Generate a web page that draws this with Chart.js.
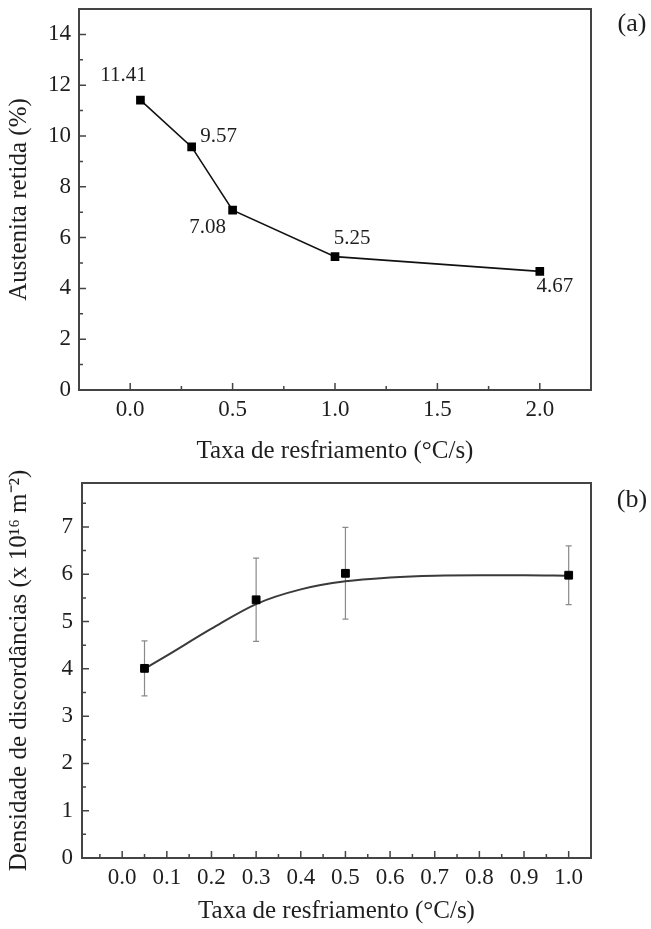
<!DOCTYPE html>
<html>
<head>
<meta charset="utf-8">
<script src="https://cdn.jsdelivr.net/npm/chart.js@4.4.0/dist/chart.umd.min.js"></script>
<style>
  html, body { margin: 0; padding: 0; background: #fff; }
  #wrap { position: relative; width: 651px; height: 929px; }
  .panel { position: absolute; left: 0; width: 651px; }
  #panelA { top: 0; height: 470px; }
  #panelB { top: 470px; height: 459px; }
</style>
</head>
<body>
<div id="wrap">
  <div class="panel" id="panelA"><canvas id="austeniteChart"></canvas></div>
  <div class="panel" id="panelB"><canvas id="densityChart"></canvas></div>
</div>
<script>
// (a) retained austenite vs cooling rate
const rateA = [0.05, 0.3, 0.5, 1.0, 2.0];
const austenite = [11.41, 9.57, 7.08, 5.25, 4.67];
const xTicksA = [0, 0.25, 0.5, 0.75, 1.0, 1.25, 1.5, 1.75, 2.0];
const xLabelsA = [0, 0.5, 1.0, 1.5, 2.0];
const yTicksA = [0, 1, 2, 3, 4, 5, 6, 7, 8, 9, 10, 11, 12, 13, 14];
const yLabelsA = [0, 2, 4, 6, 8, 10, 12, 14];

// (b) dislocation density vs cooling rate, with fitted curve
const rateB = [0.05, 0.3, 0.5, 1.0];
const density = [4.01, 5.46, 6.02, 5.98];
const densityErr = [0.58, 0.88, 0.97, 0.62];
const fitRate = [0.05, 0.1, 0.2, 0.3, 0.4, 0.5, 0.6, 0.7, 0.8, 0.9, 1.0];
const fitDensity = [4.0, 4.28, 4.85, 5.37, 5.68, 5.85, 5.93, 5.97, 5.98, 5.98, 5.97];
const xTicksB = [-0.05, 0, 0.05, 0.1, 0.15, 0.2, 0.25, 0.3, 0.35, 0.4, 0.45, 0.5,
                 0.55, 0.6, 0.65, 0.7, 0.75, 0.8, 0.85, 0.9, 0.95, 1.0];
const xLabelsB = [0, 0.1, 0.2, 0.3, 0.4, 0.5, 0.6, 0.7, 0.8, 0.9, 1.0];
const yTicksB = [0, 0.5, 1, 1.5, 2, 2.5, 3, 3.5, 4, 4.5, 5, 5.5, 6, 6.5, 7, 7.5];
const yLabelsB = [0, 1, 2, 3, 4, 5, 6, 7];

const SERIF = "'Liberation Serif', 'Times New Roman', serif";
const INK = '#1e1e1e';
const FRAME = '#444';

const isIn = (list, v) => list.some(l => Math.abs(l - v) < 1e-9);

// box around the plot, inward ticks, panel letter
const framePlugin = {
  id: 'frame',
  afterDatasetsDraw(chart, args, opts) {
    const ctx = chart.ctx;
    const a = chart.chartArea;
    ctx.save();
    ctx.strokeStyle = FRAME;
    ctx.lineWidth = 2;
    ctx.strokeRect(a.left, a.top, a.right - a.left, a.bottom - a.top);
    ctx.lineWidth = 1.5;
    ctx.beginPath();
    chart.scales.x.ticks.forEach(t => {
      const px = chart.scales.x.getPixelForValue(t.value);
      const len = t.label !== '' ? 7 : 4;
      ctx.moveTo(px, a.bottom);
      ctx.lineTo(px, a.bottom - len);
    });
    chart.scales.y.ticks.forEach(t => {
      const py = chart.scales.y.getPixelForValue(t.value);
      const len = t.label !== '' ? 7 : 4;
      ctx.moveTo(a.left, py);
      ctx.lineTo(a.left + len, py);
    });
    ctx.stroke();
    ctx.fillStyle = INK;
    ctx.font = '26px ' + SERIF;
    ctx.textAlign = 'center';
    ctx.textBaseline = 'middle';
    ctx.fillText(opts.letter, opts.letterX, opts.letterY);
    ctx.restore();
  }
};

// vertical error bars with caps, drawn under the markers
const errorBarPlugin = {
  id: 'errorBars',
  beforeDatasetsDraw(chart, args, opts) {
    if (!opts.errors) return;
    const ctx = chart.ctx;
    const meta = chart.getDatasetMeta(opts.dataset);
    const ys = chart.scales.y;
    const values = chart.data.datasets[opts.dataset].data;
    ctx.save();
    ctx.strokeStyle = '#8a8a8a';
    ctx.lineWidth = 1.2;
    ctx.beginPath();
    meta.data.forEach((pt, i) => {
      const v = values[i].y;
      const top = ys.getPixelForValue(v + opts.errors[i]);
      const bot = ys.getPixelForValue(v - opts.errors[i]);
      ctx.moveTo(pt.x, top); ctx.lineTo(pt.x, bot);
      ctx.moveTo(pt.x - 3, top); ctx.lineTo(pt.x + 3, top);
      ctx.moveTo(pt.x - 3, bot); ctx.lineTo(pt.x + 3, bot);
    });
    ctx.stroke();
    ctx.restore();
  }
};

// value labels next to the markers of panel (a)
const labelOffsets = [[-17, -25], [27, -10], [-25, 17], [17, -18], [15, 15]];
const valueLabelPlugin = {
  id: 'valueLabels',
  afterDatasetsDraw(chart, args, opts) {
    if (!opts.show) return;
    const ctx = chart.ctx;
    const meta = chart.getDatasetMeta(0);
    ctx.save();
    ctx.fillStyle = INK;
    ctx.font = '21px ' + SERIF;
    ctx.textAlign = 'center';
    ctx.textBaseline = 'middle';
    meta.data.forEach((pt, i) => {
      const [dx, dy] = labelOffsets[i];
      ctx.fillText(austenite[i].toFixed(2), pt.x + dx, pt.y + dy);
    });
    ctx.restore();
  }
};

function linearAxis(opts) {
  return {
    type: 'linear',
    min: opts.min,
    max: opts.max,
    grid: { display: false, drawTicks: false },
    border: { display: false },
    afterBuildTicks: s => { s.ticks = opts.ticks.map(v => ({ value: v })); },
    afterFit: s => {
      if (opts.width) s.width = opts.width;
      if (opts.height) s.height = opts.height;
      // plot box is fixed, no extra room for edge labels
      s.paddingTop = 0; s.paddingBottom = 0;
      s.paddingLeft = 0; s.paddingRight = 0;
    },
    ticks: {
      autoSkip: false,
      maxRotation: 0,
      padding: opts.padding,
      color: INK,
      font: { family: SERIF, size: 23 },
      callback: v => isIn(opts.labels, v) ? (opts.decimals ? v.toFixed(1) : String(v)) : ''
    },
    title: {
      display: true,
      text: opts.title,
      color: INK,
      font: { family: SERIF, size: 25 },
      padding: opts.titlePadding
    }
  };
}

Chart.register(framePlugin, errorBarPlugin, valueLabelPlugin);

// Panel (a)
new Chart(document.getElementById('austeniteChart'), {
  type: 'line',
  data: {
    datasets: [{
      data: rateA.map((x, i) => ({ x: x, y: austenite[i] })),
      borderColor: '#111',
      borderWidth: 1.6,
      pointStyle: 'rect',
      pointRadius: 5,
      pointBackgroundColor: '#000',
      pointBorderColor: '#000',
      tension: 0
    }]
  },
  options: {
    responsive: true,
    maintainAspectRatio: false,
    animation: false,
    layout: { padding: { left: 0, right: 60, top: 9, bottom: 0 } },
    plugins: {
      legend: { display: false },
      tooltip: { enabled: false },
      frame: { letter: '(a)', letterX: 632, letterY: 24 },
      valueLabels: { show: true }
    },
    scales: {
      x: linearAxis({ min: -0.25, max: 2.25, ticks: xTicksA, labels: xLabelsA, decimals: true,
        height: 80, padding: 6, title: 'Taxa de resfriamento (°C/s)',
        titlePadding: { top: 0, bottom: 4 } }),
      y: linearAxis({ min: 0, max: 15, ticks: yTicksA, labels: yLabelsA,
        width: 79, padding: 8, title: 'Austenita retida (%)',
        titlePadding: { top: 4, bottom: 0 } })
    }
  }
});

// Panel (b)
new Chart(document.getElementById('densityChart'), {
  type: 'line',
  data: {
    datasets: [{
      data: rateB.map((x, i) => ({ x: x, y: density[i] })),
      showLine: false,
      pointStyle: 'rect',
      pointRadius: 5.5,
      pointBackgroundColor: '#000',
      pointBorderColor: '#000'
    }, {
      data: fitRate.map((x, i) => ({ x: x, y: fitDensity[i] })),
      borderColor: '#3a3a3a',
      borderWidth: 2,
      pointRadius: 0,
      cubicInterpolationMode: 'monotone'
    }]
  },
  options: {
    responsive: true,
    maintainAspectRatio: false,
    animation: false,
    layout: { padding: { left: 0, right: 60, top: 13, bottom: 0 } },
    plugins: {
      legend: { display: false },
      tooltip: { enabled: false },
      frame: { letter: '(b)', letterX: 632, letterY: 30 },
      errorBars: { dataset: 0, errors: densityErr }
    },
    scales: {
      x: linearAxis({ min: -0.09, max: 1.05, ticks: xTicksB, labels: xLabelsB, decimals: true,
        height: 71, padding: 6, title: 'Taxa de resfriamento (°C/s)',
        titlePadding: { top: 0, bottom: 3 } }),
      y: linearAxis({ min: 0, max: 7.93, ticks: yTicksB, labels: yLabelsB,
        width: 82, padding: 9, title: 'Densidade de discordâncias (x 10¹⁶ m⁻²)',
        titlePadding: { top: 4, bottom: 0 } })
    }
  }
});
</script>
</body>
</html>
